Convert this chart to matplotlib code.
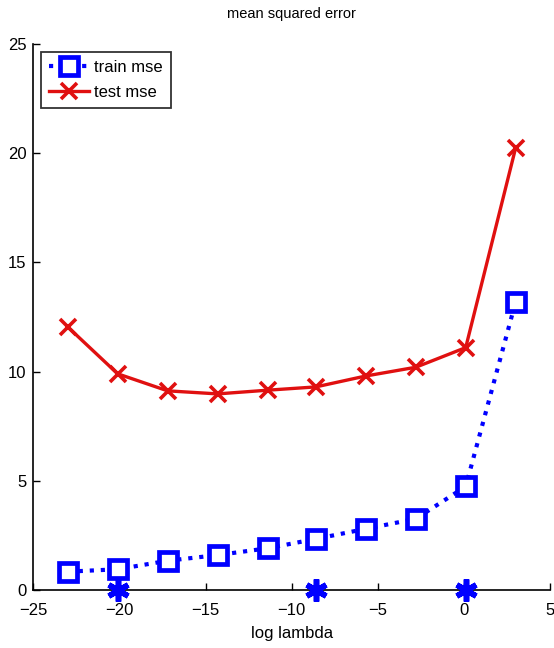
import matplotlib
matplotlib.use('Agg')
import matplotlib.pyplot as plt

plt.rcParams['font.family'] = ['Liberation Sans', 'DejaVu Sans']

log_lambda = [-23.0, -20.1, -17.2, -14.3, -11.4, -8.6, -5.7, -2.8, 0.1, 3.0]
train_mse = [0.84, 0.95, 1.34, 1.6, 1.91, 2.34, 2.8, 3.26, 4.74, 13.2]
test_mse = [12.05, 9.9, 9.12, 8.98, 9.15, 9.3, 9.8, 10.2, 11.1, 20.25]
star_x = [-20.1, -8.6, 0.1]
star_y = [0, 0, 0]

fig = plt.figure(figsize=(5.54, 6.48), dpi=100)
ax = fig.add_axes([0.06, 0.0895, 0.933, 0.8425])

ax.plot(log_lambda, train_mse, color='#0000ff', linestyle=':', linewidth=3,
        marker='s', markersize=13, markeredgewidth=3.4, markerfacecolor='white',
        markeredgecolor='#0000ff', label='train mse', clip_on=False, zorder=3)
ax.plot(log_lambda, test_mse, color='#e01010', linestyle='-', linewidth=2.4,
        marker='x', markersize=11, markeredgewidth=2.6, label='test mse',
        clip_on=False, zorder=3)
ax.plot(star_x, star_y, linestyle='none', marker=(6, 2, 0), markersize=16,
        markeredgewidth=4, color='#0000ff', clip_on=False, zorder=4)

ax.set_xlim(-25, 5)
ax.set_ylim(0, 25)
ax.set_xticks([-25, -20, -15, -10, -5, 0, 5])
ax.set_yticks([0, 5, 10, 15, 20, 25])
ax.tick_params(direction='in', labelsize=12, length=5, width=1)
ax.tick_params(axis='x', pad=9)
ax.tick_params(axis='y', pad=5)
ax.spines['top'].set_visible(False)
ax.spines['right'].set_visible(False)
ax.spines['left'].set_linewidth(1.2)
ax.spines['bottom'].set_linewidth(1.2)

ax.set_title('mean squared error', fontsize=10.5, pad=19)
ax.set_xlabel('log lambda', fontsize=12, labelpad=6)

leg = ax.legend(loc='upper left', fontsize=12, frameon=True, fancybox=False,
                edgecolor='black', handlelength=2.4, borderpad=0.5,
                labelspacing=0.6, handletextpad=0.3, borderaxespad=0.45)
leg.get_frame().set_linewidth(1.3)

fig.savefig('out.png', dpi=100)
